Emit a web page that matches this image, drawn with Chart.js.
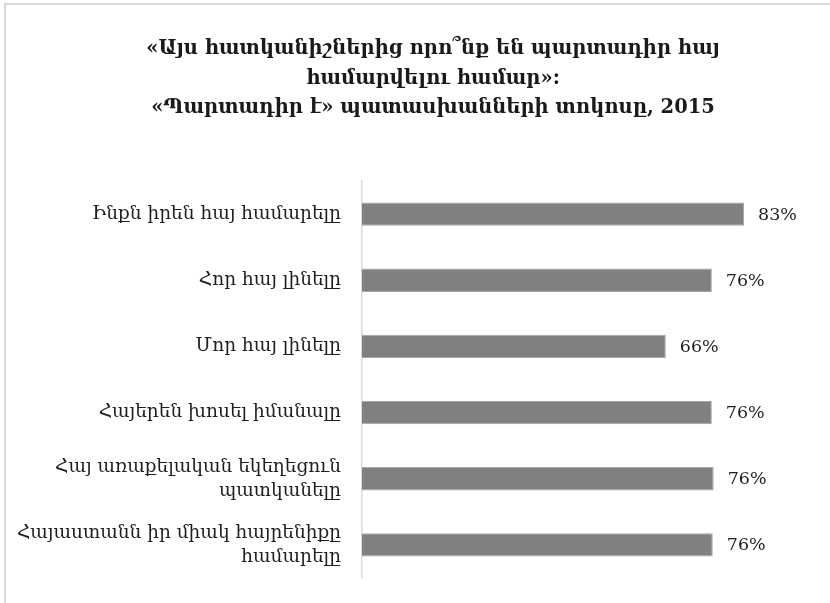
<!DOCTYPE html>
<html>
<head>
<meta charset="utf-8">
<script src="https://cdn.jsdelivr.net/npm/chart.js@4/dist/chart.umd.min.js"></script>
<style>
    html, body { margin: 0; padding: 0; background: #fff; overflow: hidden; width: 830px; height: 603px; }
    #frame {
        position: absolute; left: 4px; top: 3px; width: 824px; height: 598px;
        border-left: 2px solid #d9d9d9; border-top: 2px solid #d9d9d9;
    }
    #wrap { position: absolute; left: 0; top: 0; width: 830px; height: 603px; }
</style>
</head>
<body>
<div id="frame"></div>
<div id="wrap"><canvas id="barChart" width="830" height="603"></canvas></div>
<script>
// Chart data
const titleLines = [
    '«Այս հատկանիշներից որո՞նք են պարտադիր հայ',
    'համարվելու համար»:',
    '«Պարտադիր է» պատասխանների տոկոսը, 2015'
];
const categories = [
    'Ինքն իրեն հայ համարելը',
    'Հոր հայ լինելը',
    'Մոր հայ լինելը',
    'Հայերեն խոսել իմանալը',
    ['Հայ առաքելական եկեղեցուն', 'պատկանելը'],
    ['Հայաստանն իր միակ հայրենիքը', 'համարելը']
];
const values = [83, 76, 66, 76, 76.4, 76.2];

const serif = '"DejaVu Serif", "Liberation Serif", serif';

// Title drawn a bit right of canvas centre, like the original
const titleText = {
    id: 'titleText',
    afterDraw(chart) {
        const ctx = chart.ctx;
        ctx.save();
        ctx.font = 'bold 19.5px ' + serif;
        ctx.fillStyle = '#1a1a1a';
        ctx.textAlign = 'center';
        ctx.textBaseline = 'middle';
        titleLines.forEach((line, i) => {
            ctx.fillText(line, 433, 49 + i * 29.5);
        });
        ctx.restore();
    }
};

// Draws the percent labels next to each bar
const valueLabels = {
    id: 'valueLabels',
    afterDatasetsDraw(chart) {
        const ctx = chart.ctx;
        const meta = chart.getDatasetMeta(0);
        ctx.save();
        ctx.font = '17.5px ' + serif;
        ctx.fillStyle = '#1f1f1f';
        ctx.textAlign = 'left';
        ctx.textBaseline = 'middle';
        meta.data.forEach((bar, i) => {
            ctx.fillText(Math.round(values[i]) + '%', bar.x + 14, bar.y + 1);
        });
        ctx.restore();
    }
};

new Chart(document.getElementById('barChart'), {
    type: 'bar',
    data: {
        labels: categories,
        datasets: [{
            data: values,
            backgroundColor: '#808080',
            borderColor: '#a6a6a6',
            borderWidth: 1,
            barPercentage: 0.64,
            categoryPercentage: 0.55
        }]
    },
    options: {
        indexAxis: 'y',
        responsive: false,
        animation: false,
        layout: {
            padding: { top: 181, bottom: 25, left: 8, right: 10 }
        },
        plugins: {
            legend: { display: false },
            tooltip: { enabled: false },
            title: { display: false }
        },
        scales: {
            x: {
                display: false,
                min: 0,
                max: 99.5
            },
            y: {
                afterFit: function (scale) {
                    scale.width = 354;
                },
                grid: { display: false },
                border: { display: true, color: '#d9d9d9', width: 1.5 },
                ticks: {
                    color: '#1f1f1f',
                    padding: 13,
                    font: { family: serif, size: 18.5, lineHeight: 1.3 }
                }
            }
        }
    },
    plugins: [valueLabels, titleText]
});
</script>
</body>
</html>
